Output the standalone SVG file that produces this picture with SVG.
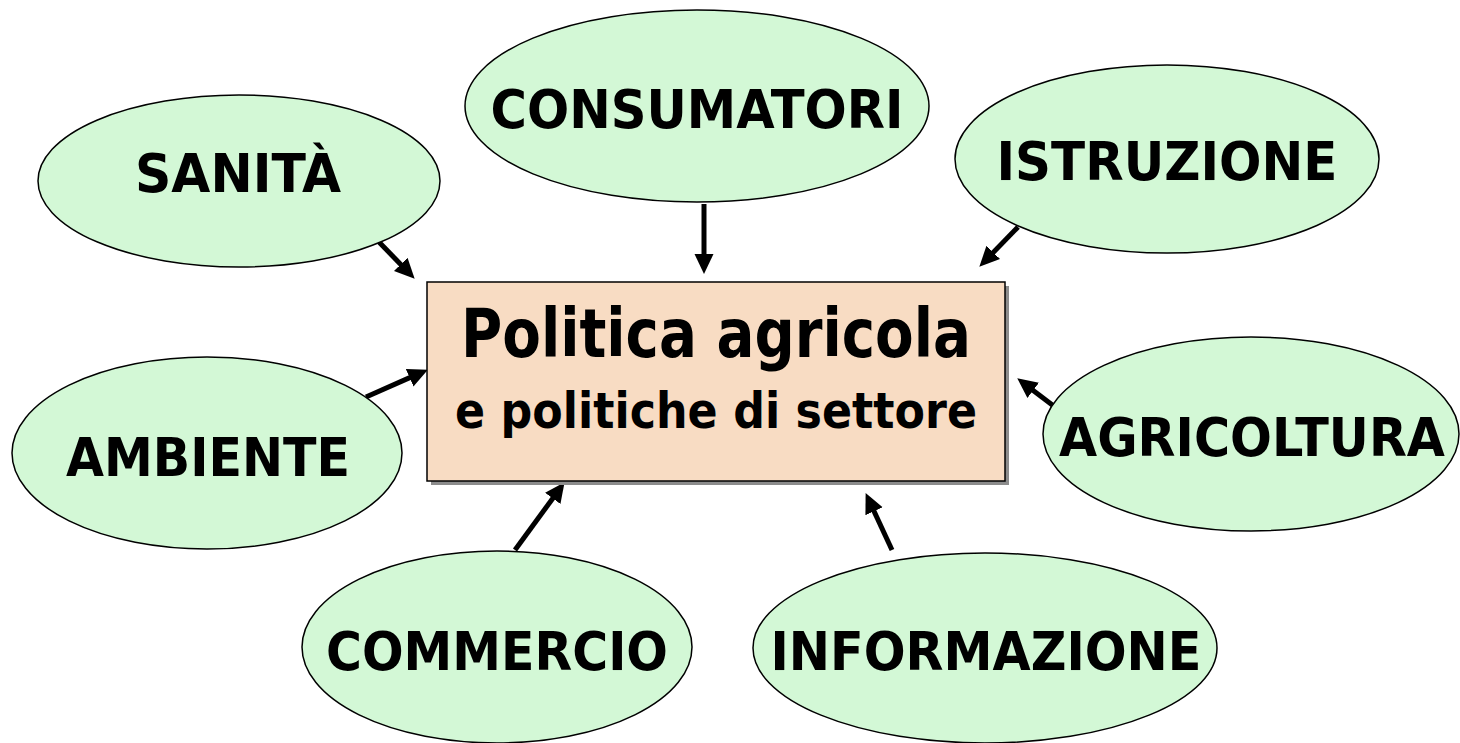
<svg xmlns="http://www.w3.org/2000/svg" width="1460" height="743" viewBox="0 0 1460 743">
<defs>
<style>
.node ellipse{fill:#d3f8d6;stroke:#000;stroke-width:1.5}
.lbl{font-family:"DejaVu Sans","Liberation Sans",sans-serif;font-weight:bold;font-size:53px;fill:#000;text-anchor:middle}
.t1{font-size:67px}
.t2{font-size:49px}
.conn line{stroke:#000;stroke-width:5;marker-end:url(#ah)}
</style>
<marker id="ah" markerUnits="userSpaceOnUse" markerWidth="20" markerHeight="20" viewBox="0 0 20 20" refX="7" refY="10" orient="auto">
<path d="M0,0.5 L20,10 L0,19.5 Z" fill="#000"/>
</marker>
</defs>
<rect width="1460" height="743" fill="#fff"/>
<g class="conn">
<line x1="378" y1="241" x2="405.6" y2="269.4"/>
<line x1="704" y1="204" x2="704" y2="261"/>
<line x1="1018" y1="227" x2="988.4" y2="257.4"/>
<line x1="366" y1="397" x2="416" y2="374.9"/>
<line x1="1055" y1="407" x2="1027.6" y2="386.2"/>
<line x1="515" y1="550" x2="556.9" y2="492.7"/>
<line x1="892" y1="550" x2="871.1" y2="504.9"/>
</g>
<g id="center">
<rect x="431" y="286" width="578" height="199" fill="#8c8c8c"/>
<rect x="427" y="282" width="578" height="199" fill="#f8dcc3" stroke="#000" stroke-width="1.5"/>
<text class="lbl t1" x="716" y="357" textLength="510" lengthAdjust="spacingAndGlyphs">Politica agricola</text>
<text class="lbl t2" x="716" y="428" textLength="522" lengthAdjust="spacingAndGlyphs">e politiche di settore</text>
</g>
<g id="sanita" class="node">
<ellipse cx="239" cy="181" rx="201" ry="86"/>
<text class="lbl" x="238" y="192" textLength="206" lengthAdjust="spacingAndGlyphs">SANITÀ</text>
</g>
<g id="consumatori" class="node">
<ellipse cx="697" cy="106" rx="232" ry="96"/>
<text class="lbl" x="697" y="128" textLength="413" lengthAdjust="spacingAndGlyphs">CONSUMATORI</text>
</g>
<g id="istruzione" class="node">
<ellipse cx="1167" cy="159" rx="212" ry="94"/>
<text class="lbl" x="1167" y="180" textLength="341" lengthAdjust="spacingAndGlyphs">ISTRUZIONE</text>
</g>
<g id="ambiente" class="node">
<ellipse cx="207" cy="453" rx="195" ry="96"/>
<text class="lbl" x="208" y="476" textLength="284" lengthAdjust="spacingAndGlyphs">AMBIENTE</text>
</g>
<g id="agricoltura" class="node">
<ellipse cx="1251" cy="434" rx="208" ry="97"/>
<text class="lbl" x="1252" y="456" textLength="386" lengthAdjust="spacingAndGlyphs">AGRICOLTURA</text>
</g>
<g id="commercio" class="node">
<ellipse cx="497" cy="647" rx="195" ry="96"/>
<text class="lbl" x="497" y="670" textLength="342" lengthAdjust="spacingAndGlyphs">COMMERCIO</text>
</g>
<g id="informazione" class="node">
<ellipse cx="985" cy="648" rx="232" ry="95"/>
<text class="lbl" x="986" y="670" textLength="431" lengthAdjust="spacingAndGlyphs">INFORMAZIONE</text>
</g>
</svg>
